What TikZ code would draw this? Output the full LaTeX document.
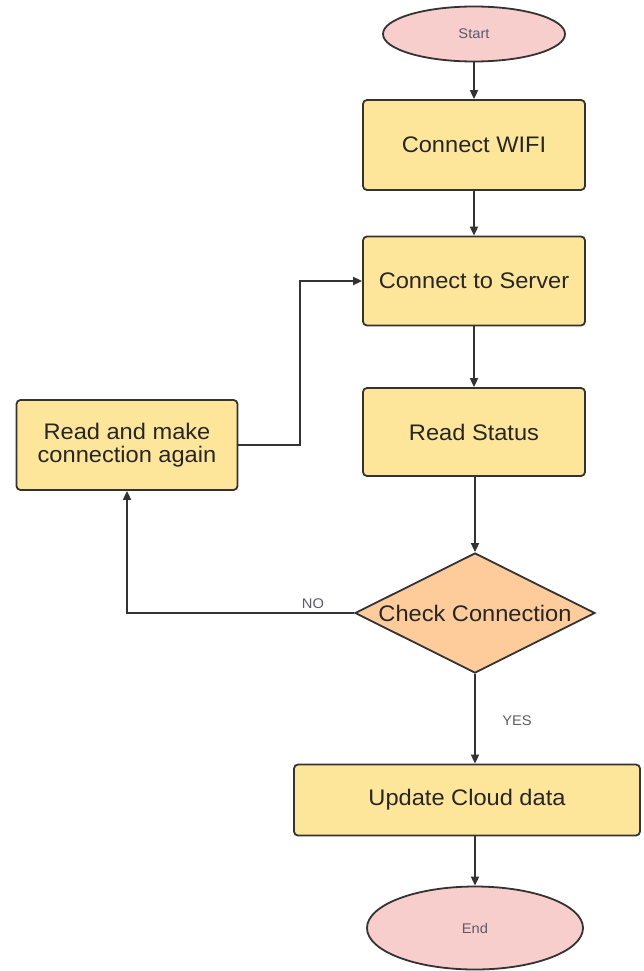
\documentclass[tikz,border=0pt]{standalone}
\usepackage{fontspec}
\setmainfont{Liberation Sans}[FakeStretch=1.05]
\usetikzlibrary{shapes.geometric,arrows.meta}
\definecolor{boxfill}{HTML}{FDE59A}
\definecolor{endfill}{HTML}{F8CECC}
\definecolor{decfill}{HTML}{FECB9B}
\definecolor{strk}{HTML}{333333}
\definecolor{txt}{HTML}{262626}
\definecolor{small}{HTML}{5A5A6A}
\tikzset{
  proc/.style={draw=strk, line width=1.8pt, fill=boxfill, rounded corners=4pt,
    inner sep=0pt, align=center, text=txt, font=\fontsize{22.5}{23}\selectfont},
  term/.style={ellipse, draw=strk, line width=1.8pt, fill=endfill, inner sep=0pt,
    text=small, font=\fontsize{14}{16}\selectfont},
  dec/.style={diamond, draw=strk, line width=1.8pt, fill=decfill, inner sep=0pt},
  dectext/.style={text=txt, inner sep=0pt, font=\fontsize{22.5}{23}\selectfont},
  conn/.style={draw=strk, line width=1.8pt, -{Triangle[length=9pt,width=8pt]}},
  lbl/.style={text=small, font=\fontsize{14}{16}\selectfont},
}
\begin{document}
\begin{tikzpicture}[x=1pt,y=-1pt]
\useasboundingbox (0,0) rectangle (643,971);
\node[term, minimum width=182, minimum height=55] (start) at (474,34) {Start};
\node[proc, minimum width=222, minimum height=90] (wifi) at (474,145) {Connect WIFI};
\node[proc, minimum width=222, minimum height=89] (server) at (474,281) {Connect to Server};
\node[proc, minimum width=222, minimum height=88] (status) at (474,432) {Read Status};
\node[proc, minimum width=221, minimum height=90] (again) at (127,445) {Read and make\\connection again};
\node[dec, minimum width=240, minimum height=120] (check) at (475,613) {};
\node[dectext] (checktext) at (check.center) {Check Connection};
\node[proc, minimum width=346, minimum height=71] (update) at (467,800) {Update Cloud data};
\node[term, minimum width=216, minimum height=83] (end) at (475,928) {End};
\coordinate (jx) at (300,0);
\draw[conn] (start) -- (wifi);
\draw[conn] (wifi) -- (server);
\draw[conn] (server) -- (status);
\draw[conn] (status.south -| check.north) -- (check.north);
\draw[conn] (check.south) -- (check.south |- update.north);
\draw[conn] (end.north |- update.south) -- (end.north);
\draw[conn] (again.east) -- (again.east -| jx) |- (server.west);
\draw[conn] (check.west) -| (again.south);
\node[lbl] (no) at (313,604) {NO};
\node[lbl] (yes) at (517,721) {YES};
\end{tikzpicture}
\end{document}
